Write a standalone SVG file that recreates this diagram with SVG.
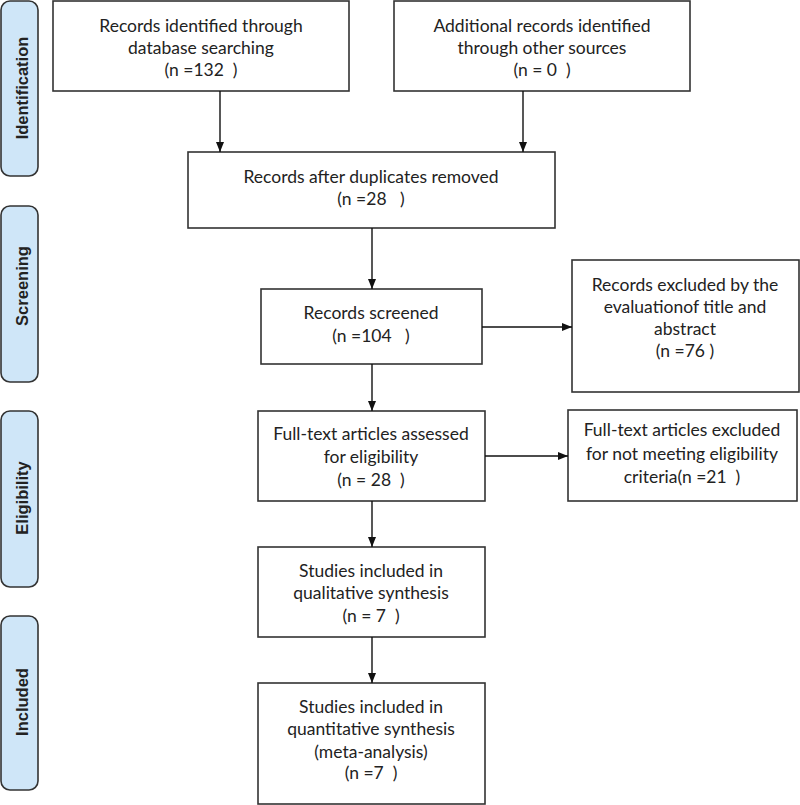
<svg xmlns="http://www.w3.org/2000/svg" width="800" height="805" viewBox="0 0 800 805">
<defs>
<marker id="ah" markerWidth="10" markerHeight="10" refX="10" refY="5" orient="auto" markerUnits="userSpaceOnUse">
<path d="M0,1 L10,5 L0,9 Z" fill="#111"/>
</marker>
<style>
.box{fill:#fff;stroke:#333;stroke-width:1.6}
.side{fill:#cfe6f8;stroke:#333;stroke-width:1.6}
.t{font-family:Lato,"Liberation Sans",sans-serif;font-size:17.5px;fill:#222;text-anchor:middle;white-space:pre}
.s{font-family:"Liberation Sans",Arial,sans-serif;font-size:16.5px;font-weight:bold;fill:#222;text-anchor:middle}
.c{stroke:#111;stroke-width:1.4;fill:none;marker-end:url(#ah)}
</style>
</defs>
<rect width="800" height="805" fill="#fff"/>
<g id="phase-identification"><rect class="side" x="1" y="1" width="37" height="175" rx="9"/><text class="s" transform="translate(28,88) rotate(-90)">Identification</text></g>
<g id="phase-screening"><rect class="side" x="1" y="206" width="37" height="176" rx="9"/><text class="s" transform="translate(28,286) rotate(-90)">Screening</text></g>
<g id="phase-eligibility"><rect class="side" x="1" y="411" width="37" height="176" rx="9"/><text class="s" transform="translate(28,498) rotate(-90)">Eligibility</text></g>
<g id="phase-included"><rect class="side" x="1" y="616" width="37" height="174" rx="9"/><text class="s" transform="translate(28,702) rotate(-90)">Included</text></g>

<g id="n-database"><rect class="box" x="53" y="1" width="296" height="90"/>
<text class="t" x="201" y="32">Records identified through</text>
<text class="t" x="201" y="54">database searching</text>
<text class="t" x="201" y="76">(n =132  )</text></g>

<g id="n-other"><rect class="box" x="394" y="1" width="296" height="90"/>
<text class="t" x="542" y="32">Additional records identified</text>
<text class="t" x="542" y="54">through other sources</text>
<text class="t" x="542" y="76">(n = 0  )</text></g>

<g id="n-duplicates"><rect class="box" x="188" y="152" width="367" height="76"/>
<text class="t" x="371" y="183">Records after duplicates removed</text>
<text class="t" x="371" y="205">(n =28   )</text></g>

<g id="n-screened"><rect class="box" x="261" y="289" width="221" height="75"/>
<text class="t" x="371" y="319">Records screened</text>
<text class="t" x="371" y="342">(n =104   )</text></g>

<g id="n-excluded1"><rect class="box" x="572" y="260" width="227" height="132"/>
<text class="t" x="685" y="291">Records excluded by the</text>
<text class="t" x="685" y="313">evaluationof title and</text>
<text class="t" x="685" y="335">abstract</text>
<text class="t" x="685" y="357">(n =76 )</text></g>

<g id="n-fulltext"><rect class="box" x="258" y="411" width="227" height="90"/>
<text class="t" x="371" y="440">Full-text articles assessed</text>
<text class="t" x="371" y="463">for eligibility</text>
<text class="t" x="371" y="486">(n = 28  )</text></g>

<g id="n-excluded2"><rect class="box" x="568" y="410" width="229" height="91"/>
<text class="t" x="682" y="436">Full-text articles excluded</text>
<text class="t" x="682" y="460">for not meeting eligibility</text>
<text class="t" x="682" y="483">criteria(n =21  )</text></g>

<g id="n-qualitative"><rect class="box" x="258" y="547" width="227" height="90"/>
<text class="t" x="371" y="577">Studies included in</text>
<text class="t" x="371" y="599">qualitative synthesis</text>
<text class="t" x="371" y="622">(n = 7  )</text></g>

<g id="n-quantitative"><rect class="box" x="258" y="683" width="227" height="121"/>
<text class="t" x="371" y="713">Studies included in</text>
<text class="t" x="371" y="735">quantitative synthesis</text>
<text class="t" x="371" y="758">(meta-analysis)</text>
<text class="t" x="371" y="779">(n =7  )</text></g>

<g id="connectors">
<line class="c" x1="220" y1="91" x2="220" y2="152"/>
<line class="c" x1="523" y1="91" x2="523" y2="152"/>
<line class="c" x1="372" y1="228" x2="372" y2="289"/>
<line class="c" x1="482" y1="327" x2="572" y2="327"/>
<line class="c" x1="372" y1="364" x2="372" y2="411"/>
<line class="c" x1="485" y1="456" x2="568" y2="456"/>
<line class="c" x1="372" y1="501" x2="372" y2="547"/>
<line class="c" x1="372" y1="637" x2="372" y2="683"/>
</g>
</svg>
